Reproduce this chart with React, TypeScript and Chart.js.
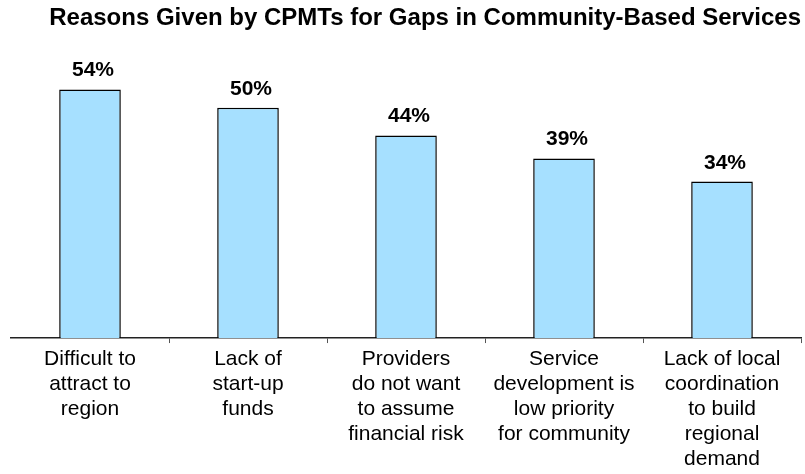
import React, { useEffect, useRef } from "react";
import { Chart, registerables } from "chart.js";

Chart.register(...registerables);

const categories: string[][] = [
  ["Difficult to", "attract to", "region"],
  ["Lack of", "start-up", "funds"],
  ["Providers", "do not want", "to assume", "financial risk"],
  ["Service", "development is", "low priority", "for community"],
  ["Lack of local", "coordination", "to build", "regional", "demand"],
];
const values: number[] = [54, 50, 44, 39, 34];
const titleText = "Reasons Given by CPMTs for Gaps in Community-Based Services";
const FONT = "'Liberation Sans', Arial, sans-serif";

const valueLabels = {
  id: "valueLabels",
  afterDatasetsDraw(chart: any) {
    const ctx = chart.ctx;
    const meta = chart.getDatasetMeta(0);
    ctx.save();
    ctx.font = "bold 21px " + FONT;
    ctx.fillStyle = "#000";
    ctx.textAlign = "center";
    ctx.textBaseline = "alphabetic";
    meta.data.forEach((el: any, i: number) => {
      ctx.fillText(values[i] + "%", el.x + 3, el.y - 13);
    });
    ctx.restore();
  },
};

export default function App() {
  const ref = useRef<HTMLCanvasElement | null>(null);
  useEffect(() => {
    if (!ref.current) return;
    const chart = new Chart(ref.current, {
      type: "bar",
      data: {
        labels: categories,
        datasets: [
          {
            data: values,
            backgroundColor: "#A6E0FF",
            borderColor: "#000000",
            borderWidth: 1.5,
            categoryPercentage: 1,
            barPercentage: 0.39,
          },
        ],
      },
      options: {
        animation: false,
        responsive: false,
        maintainAspectRatio: false,
        layout: { padding: { left: 11, right: 4, top: 0, bottom: 2 } },
        plugins: {
          legend: { display: false },
          tooltip: { enabled: false },
          title: {
            display: true,
            text: titleText,
            align: "end",
            color: "#000",
            font: { family: FONT, size: 24, weight: "bold", lineHeight: 1.2 },
            padding: { top: 4, bottom: 29 },
          },
        },
        scales: {
          x: {
            grid: {
              display: true,
              offset: true,
              drawOnChartArea: false,
              drawTicks: true,
              tickLength: 5,
              color: (c: any) => (c.index === 0 ? "rgba(0,0,0,0)" : "#555"),
            },
            border: { display: true, color: "#222", width: 1.5 },
            ticks: {
              color: "#000",
              padding: 4,
              maxRotation: 0,
              autoSkip: false,
              font: { family: FONT, size: 21, lineHeight: 1.19 },
            },
          },
          y: {
            display: false,
            min: 0,
            max: 60,
          },
        },
      },
      plugins: [valueLabels],
    });
    return () => chart.destroy();
  }, []);
  return (
    <div style={{ position: "absolute", left: 0, top: 0, width: 805, height: 474, overflow: "hidden", background: "#fff" }}>
      <canvas ref={ref} width={805} height={478} style={{ width: 805, height: 478, display: "block" }} />
    </div>
  );
}
